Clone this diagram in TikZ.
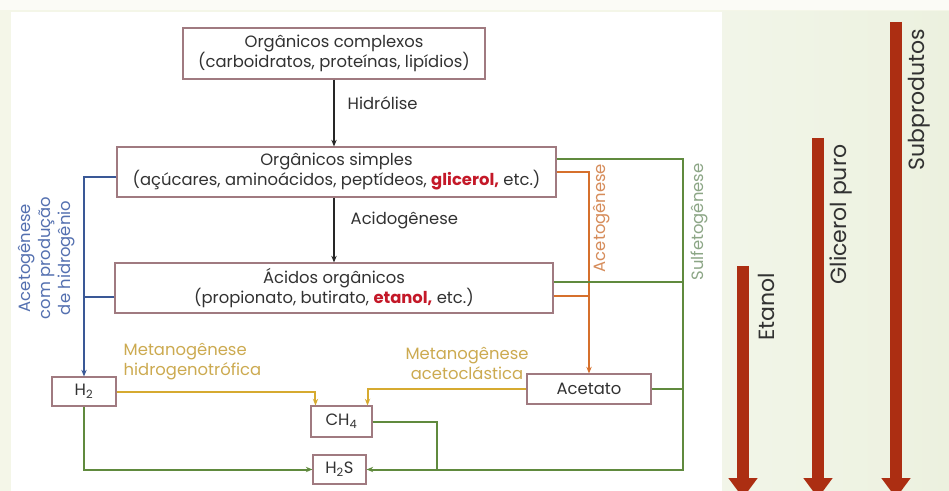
\documentclass[tikz,border=0pt]{standalone}
\usepackage{fontspec}
\setmainfont{Poppins}
\usetikzlibrary{arrows.meta}
\definecolor{slide}{RGB}{244,246,232}
\definecolor{panelgreen}{RGB}{236,241,223}
\definecolor{boxline}{RGB}{160,122,128}
\definecolor{txt}{RGB}{50,50,50}
\definecolor{hl}{RGB}{196,24,40}
\definecolor{bluel}{RGB}{58,88,150}
\definecolor{bluet}{RGB}{84,112,176}
\definecolor{orangel}{RGB}{214,112,44}
\definecolor{oranget}{RGB}{214,140,90}
\definecolor{greenl}{RGB}{96,138,62}
\definecolor{greent}{RGB}{140,166,134}
\definecolor{yell}{RGB}{214,170,48}
\definecolor{yelt}{RGB}{204,170,80}
\definecolor{bar}{RGB}{172,46,18}
\tikzset{
  box/.style={draw=boxline, line width=0.8pt, fill=white, text=txt, align=center, inner sep=0pt},
  tip/.style={-{Stealth[length=5pt,width=4pt]}},
  blk/.style={tip, line width=1.4pt, draw=black!85},
  wire/.style={line width=1.5pt}
}
\begin{document}
\begin{tikzpicture}[x=0.75pt, y=-0.75pt, font=\fontsize{12.3}{15}\selectfont]
  \useasboundingbox (0,0) rectangle (949,491);
  \clip (0,0) rectangle (949,491);
  % background
  \fill[slide] (0,0) rectangle (949,491);
  \fill[white!60!slide] (0,0) rectangle (949,10);
  \fill[white] (11,12) rectangle (722,491);
  \shade[left color=panelgreen!70, right color=panelgreen] (722,12) rectangle (949,491);
  % boxes
  \node[box, minimum width=226.5pt, minimum height=38.25pt] (complexos) at (334,53.5) {Orgânicos complexos\\(carboidratos, proteínas, lipídios)};
  \node[box, minimum width=329.25pt, minimum height=37.5pt] (simples) at (336.5,172) {Orgânicos simples\\(açúcares, aminoácidos, peptídeos, \textcolor{hl}{\textbf{glicerol,}} etc.)};
  \node[box, minimum width=328.5pt, minimum height=37.5pt] (acidos) at (334,288) {Ácidos orgânicos\\(propionato, butirato, \textcolor{hl}{\textbf{etanol,}} etc.)};
  \node[box, minimum width=48pt, minimum height=21.75pt] (h2) at (84,391.5) {H\textsubscript{2}};
  \node[box, minimum width=45.75pt, minimum height=23.25pt] (ch4) at (341.5,421.5) {CH\textsubscript{4}};
  \node[box, minimum width=39.75pt, minimum height=21.75pt] (h2s) at (339.5,469.5) {H\textsubscript{2}S};
  \node[box, minimum width=93pt, minimum height=22.5pt] (acetato) at (589,389) {Acetato};
  % main chain
  \draw[blk] (complexos.south) -- (complexos.south |- simples.north);
  \node[text=txt, anchor=west] (hidrolise) at (343,103) {Hidrólise};
  \draw[blk] (complexos.south |- simples.south) -- (complexos.south |- acidos.north);
  \node[text=txt, anchor=west] (acidogenese) at (346,220) {Acidogênese};
  % acetogenese com producao de H2
  \draw[wire, bluel, tip] ([yshift=-3.75pt]simples.west) -| (h2.north);
  \draw[wire, bluel] ([yshift=-6.75pt]acidos.west) -- ([yshift=-6.75pt]acidos.west -| h2.north);
  \node[text=bluet, rotate=90, align=center] (acetoh) at (47,258) {Acetogênese\\com produção\\de hidrogênio};
  % acetogenese
  \draw[wire, orangel, tip] (simples.east) -| (acetato.north);
  \draw[wire, orangel] ([yshift=-6pt]acidos.east) -- ([yshift=-6pt]acidos.east -| acetato.north);
  \node[text=oranget, rotate=90] (acetog) at (602,218) {Acetogênese};
  % sulfetogenese
  \coordinate (gtop) at (683,159);
  \coordinate (gbot) at (683,469.5);
  \coordinate (gjoin) at (437,469.5);
  \draw[wire, greenl, tip] ([yshift=9.75pt]simples.east) -- (gtop) -- (gbot) -- (h2s.east);
  \draw[wire, greenl] ([yshift=4.5pt]acidos.east) -- ([yshift=4.5pt]acidos.east -| gtop);
  \draw[wire, greenl] (acetato.east) -- (acetato.east -| gtop);
  \draw[wire, greenl] (ch4.east) -| (gjoin);
  \draw[wire, greenl, tip] (h2.south) |- (h2s.west);
  \node[text=greent, rotate=90] (sulf) at (699,222) {Sulfetogênese};
  % metanogenese
  \draw[wire, yell, tip] (h2.east) -| ([xshift=3.75pt]ch4.north west);
  \draw[wire, yell, tip] (acetato.west) -| ([xshift=-3.75pt]ch4.north east);
  \node[text=yelt, anchor=west, align=left] (metah) at (119,362) {Metanogênese\\hidrogenotrófica};
  \node[text=yelt, align=center] (metaa) at (467,363) {Metanogênese\\acetoclástica};
  % products
  \foreach \x/\y/\t [count=\i] in {743/266/Etanol, 818/138/Glicerol puro, 896/22/Subprodutos} {
    \coordinate (top\i) at (\x,\y);
    \coordinate (end\i) at (\x,498);
    \draw[bar, line width=8.5pt, -{Triangle[width=21pt,length=15pt]}] (top\i) -- (end\i);
    \node[text=txt, rotate=90, anchor=east, font=\fontsize{16.5}{18}\selectfont] (lab\i) at (\x+23,\y+2) {\t};
  }
\end{tikzpicture}
\end{document}
